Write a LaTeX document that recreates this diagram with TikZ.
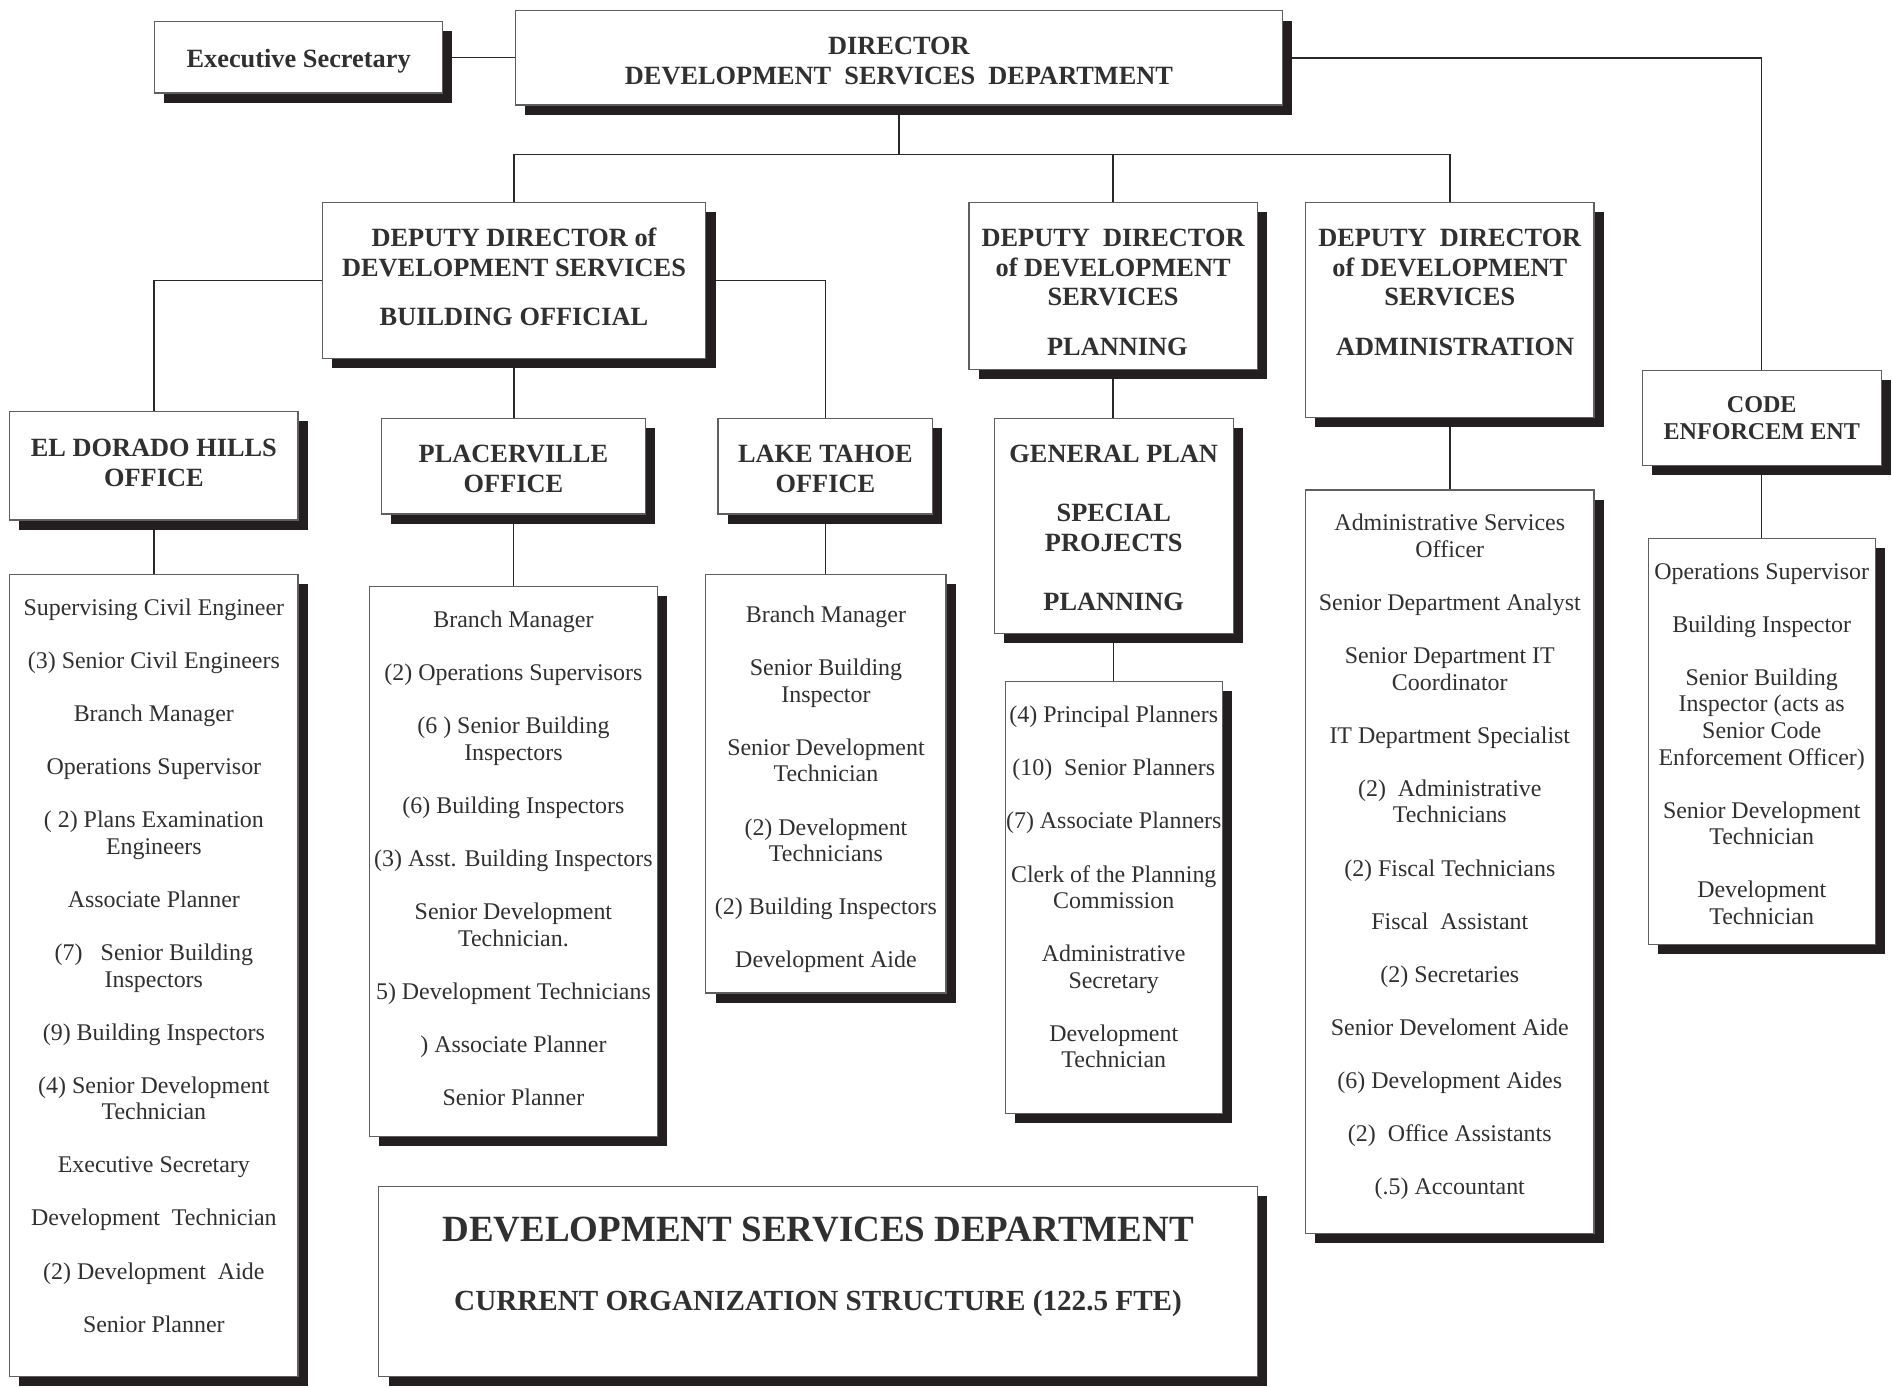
\documentclass[tikz,border=0pt]{standalone}
\usepackage{fontspec}
\setmainfont{Liberation Serif}
\usetikzlibrary{shadows,backgrounds}
\definecolor{textc}{RGB}{48,48,48}
\definecolor{shadc}{RGB}{35,31,32}
\definecolor{edgec}{RGB}{95,95,95}
\definecolor{linec}{RGB}{40,40,40}
\tikzset{
  obox/.style={draw=edgec, line width=0.6pt, fill=white, inner sep=0pt, outer sep=0pt,
    drop shadow={shadow xshift=4.8pt, shadow yshift=-4.8pt, opacity=1, fill=shadc}},
  conn/.style={draw=linec, line width=0.75pt},
  body/.style={text=textc, font=\fontsize{11.9}{14}\selectfont, inner sep=0pt, anchor=base, yshift=-0.6pt},
  head/.style={text=textc, font=\bfseries\fontsize{13.1}{15}\selectfont, inner sep=0pt, anchor=base, yshift=-0.6pt},
  headsm/.style={text=textc, font=\bfseries\fontsize{12}{14}\selectfont, inner sep=0pt, anchor=base, yshift=-0.6pt},
}
\newcommand\mkbox[5]{%
  \pgfmathsetmacro\bxw{(#4-#2)*0.6}%
  \pgfmathsetmacro\bxh{(#5-#3)*0.6}%
  \node[obox, minimum width=\bxw pt, minimum height=\bxh pt] (#1) at ({(#2+#4)/2},{(#3+#5)/2}) {};%
}
\newcommand\tlines[5]{%
  \foreach \lntext [count=\lnidx from 0] in {#5} {%
    \node[#4] (#1-\lnidx) at (#2,{#3+22*\lnidx}) {\lntext};%
  }%
}
\begin{document}
\begin{tikzpicture}[x=0.6pt,y=-0.6pt]
\useasboundingbox (0,0) rectangle (1568,1150);

% boxes
\mkbox{exec}{128}{18}{367}{77}
\mkbox{dir}{427}{9}{1063}{87}
\mkbox{dep1}{267}{168}{585}{297}
\mkbox{dep2}{803}{168}{1042}{306}
\mkbox{dep3}{1082}{168}{1321}{346}
\mkbox{code}{1361}{307}{1559}{386}
\mkbox{edh}{8}{341}{247}{431}
\mkbox{pl}{316}{347}{535}{426}
\mkbox{lt}{595}{347}{773}{426}
\mkbox{gp}{824}{347}{1022}{525}
\mkbox{edhl}{8}{476}{247}{1141}
\mkbox{pll}{306}{486}{545}{942}
\mkbox{ltl}{585}{476}{784}{823}
\mkbox{gpl}{833}{565}{1013}{923}
\mkbox{adl}{1082}{406}{1321}{1022}
\mkbox{codel}{1366}{446}{1554}{783}
\mkbox{title}{314}{983}{1042}{1141}

% connectors
\begin{pgfonlayer}{background}
\coordinate (bus) at (745,128);
\draw[conn] (dir.south) -- (bus);
\draw[conn] (dep1.north) |- (bus) -| (dep3.north);
\draw[conn] (dep2.north) -- (dep2.north |- bus);
\draw[conn] (exec.east) -- (exec.east -| dir.west);
\draw[conn] (dir.east) -| (code.north);
\draw[conn] (dep1.west) -| (edh.north);
\draw[conn] (dep1.east) -| (lt.north);
\draw[conn] (dep1.south) -- (dep1.south |- pl.north);
\draw[conn] (edh.south) -- (edh.south |- edhl.north);
\draw[conn] (pl.south) -- (pl.south |- pll.north);
\draw[conn] (lt.south) -- (lt.south |- ltl.north);
\draw[conn] (dep2.south) -- (dep2.south |- gp.north);
\draw[conn] (gp.south) -- (gp.south |- gpl.north);
\draw[conn] (dep3.south) -- (dep3.south |- adl.north);
\draw[conn] (code.south) -- (code.south |- codel.north);
\end{pgfonlayer}

% headings
\node[head] (exec-t) at (247.5,55) {Executive Secretary};
\node[head] (dir-a) at (745,44) {DIRECTOR};
\node[head] (dir-b) at (745,69) {DEVELOPMENT~ SERVICES~ DEPARTMENT};
\node[head] (dep1-a) at (426,203) {DEPUTY DIRECTOR of};
\node[head] (dep1-b) at (426,228) {DEVELOPMENT SERVICES};
\node[head] (dep1-c) at (426,269) {BUILDING OFFICIAL};
\node[head] (dep2-a) at (922.5,203) {DEPUTY~ DIRECTOR};
\node[head] (dep2-b) at (922.5,228) {of DEVELOPMENT};
\node[head] (dep2-c) at (922.5,252) {SERVICES};
\node[head] (dep2-d) at (926,294) {PLANNING};
\node[head] (dep3-a) at (1201.5,203) {DEPUTY~ DIRECTOR};
\node[head] (dep3-b) at (1201.5,228) {of DEVELOPMENT};
\node[head] (dep3-c) at (1201.5,252) {SERVICES};
\node[head] (dep3-d) at (1206,294) {ADMINISTRATION};
\node[headsm] (code-a) at (1460,341) {CODE};
\node[headsm] (code-b) at (1460,363) {ENFORCEM ENT};
\node[head] (edh-a) at (127.5,377) {EL DORADO HILLS};
\node[head] (edh-b) at (127.5,402) {OFFICE};
\node[head] (pl-a) at (425.5,382) {PLACERVILLE};
\node[head] (pl-b) at (425.5,407) {OFFICE};
\node[head] (lt-a) at (684,382) {LAKE TAHOE};
\node[head] (lt-b) at (684,407) {OFFICE};
\node[head] (gp-a) at (923,382) {GENERAL PLAN};
\node[head] (gp-b) at (923,431) {SPECIAL};
\node[head] (gp-c) at (923,456) {PROJECTS};
\node[head] (gp-d) at (923,505) {PLANNING};
\node[text=textc, font=\bfseries\fontsize{18.4}{21}\selectfont, inner sep=0pt, anchor=base] (title-a) at (678,1029) {DEVELOPMENT SERVICES DEPARTMENT};
\node[text=textc, font=\bfseries\fontsize{14.5}{17}\selectfont, inner sep=0pt, anchor=base] (title-b) at (678,1086) {CURRENT ORGANIZATION STRUCTURE (122.5 FTE)};

% lists
\tlines{edl}{127.5}{509}{body}{Supervising Civil Engineer, , (3) Senior Civil Engineers, , Branch Manager, , Operations Supervisor, , ( 2) Plans Examination, Engineers, , Associate Planner, , (7)\hspace{9pt}Senior Building, Inspectors, , (9) Building Inspectors, , (4) Senior Development, Technician, , Executive Secretary, , Development~ Technician, , (2) Development~ Aide, , Senior Planner}
\tlines{pvl}{425.5}{519}{body}{Branch Manager, , (2) Operations Supervisors, , (6 ) Senior Building, Inspectors, , (6) Building Inspectors, , (3) Asst. Building Inspectors, , Senior Development, Technician., , 5) Development Technicians, , ) Associate Planner, , Senior Planner}
\tlines{lkl}{684.5}{515}{body}{Branch Manager, , Senior Building, Inspector, , Senior Development, Technician, , (2) Development, Technicians, , (2) Building Inspectors, , Development Aide}
\tlines{pnl}{923}{598}{body}{(4) Principal Planners, , (10)~ Senior Planners, , (7) Associate Planners, , Clerk of the Planning, Commission, , Administrative, Secretary, , Development, Technician}
\tlines{adm}{1201.5}{439}{body}{Administrative Services, Officer, , Senior Department Analyst, , Senior Department IT, Coordinator, , IT Department Specialist, , (2)~ Administrative, Technicians, , (2) Fiscal Technicians, , Fiscal~ Assistant, , (2) Secretaries, , Senior Develoment Aide, , (6) Development Aides, , (2)~ Office Assistants, , (.5) Accountant}
\tlines{cel}{1460}{479}{body}{Operations Supervisor, , Building Inspector, , Senior Building, Inspector (acts as, Senior Code, Enforcement Officer), , Senior Development, Technician, , Development, Technician}
\end{tikzpicture}
\end{document}
